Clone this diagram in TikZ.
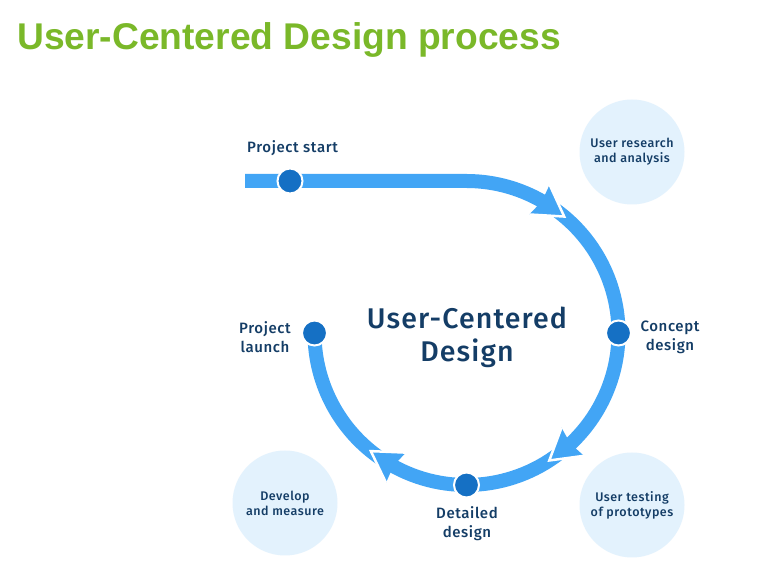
\documentclass[tikz,border=0pt]{standalone}
\usepackage{fontspec}
\setmainfont{Liberation Sans}
\newfontfamily\titlefont{Liberation Sans}
\newfontfamily\lab{Fira Sans Medium}[LetterSpace=4]
\usetikzlibrary{calc}
\definecolor{linec}{HTML}{42A5F5}
\definecolor{dotc}{HTML}{1570C4}
\definecolor{bgc}{HTML}{E3F2FD}
\definecolor{txtc}{HTML}{143D66}
\definecolor{titlec}{HTML}{7AB829}
\tikzset{
  flow/.style={draw=linec, line width=14pt, line cap=butt},
  dotnode/.style={circle, fill=dotc, draw=white, line width=2pt, minimum size=25pt, inner sep=0pt},
  bubble/.style={circle, fill=bgc, minimum size=105pt, inner sep=0pt},
  steplabel/.style={text=txtc, font=\lab\fontsize{15}{19}\selectfont, align=center},
  bubblelabel/.style={text=txtc, font=\lab\fontsize{12.5}{15}\selectfont, align=center},
}
\newcommand{\arrowheadat}[2]{% #1 = name of tip coordinate, #2 = rotation
  \begin{scope}[shift={(#1)}, rotate=#2]
    \fill[linec] (0,0) -- (-30,18) -- (-27,0) -- (-30,-18) -- cycle;
    \draw[white, line width=2.5pt, line join=miter] (-30,18) -- (0,0) -- (-30,-18);
  \end{scope}}
\begin{document}
\begin{tikzpicture}[x=1pt,y=1pt]
\useasboundingbox (0,0) rectangle (783,577);
\fill[white] (0,0) rectangle (783,577);
% title
\node[anchor=base west, inner sep=0pt, text=titlec, font=\titlefont\bfseries\fontsize{37.2}{40}\selectfont] (title) at (17,527) {User-Centered Design process};
% bubbles
\node[bubble] (b1) at (632,425) {};
\node[bubble] (b2) at (632,72) {};
\node[bubble] (b3) at (285,74) {};
\node[bubblelabel] (b1t) at (b1) {User research\\and analysis};
\node[bubblelabel] (b2t) at (b2) {User testing\\of prototypes};
\node[bubblelabel] (b3t) at (b3) {Develop\\and measure};
% geometry
\coordinate (C) at (466.5,244);
\coordinate (s0) at (245,396);
\coordinate (top) at ($(C)+(90:152)$);
\coordinate (t1) at ($(C)+(50:152)$);
\coordinate (t2) at ($(C)+(-57:152)$);
\coordinate (t3) at ($(C)+(-129:152)$);
\coordinate (a2) at ($(C)+(57:152)$);
\coordinate (a3) at ($(C)+(-50:152)$);
\coordinate (a4) at ($(C)+(-122:152)$);
% flow segments
\draw[flow] (s0) -- (top) arc[start angle=90, end angle=58, radius=152pt];
\draw[flow] (a2) arc[start angle=57, end angle=-48, radius=152pt];
\draw[flow] (a3) arc[start angle=-50, end angle=-120, radius=152pt];
\draw[flow] (a4) arc[start angle=-122, end angle=-180, radius=152pt];
% arrowheads
\arrowheadat{t1}{-34.4}
\arrowheadat{t2}{-141.4}
\arrowheadat{t3}{-213.4}
% dots
\node[dotnode] (d0) at (290,396) {};
\node[dotnode] (d1) at ($(C)+(0:152)$) {};
\node[dotnode] (d2) at ($(C)+(-90:152)$) {};
\node[dotnode] (d3) at ($(C)+(180:152)$) {};
% labels
\node[steplabel, anchor=base west, inner sep=0pt] (l0) at (247,424) {Project start};
\node[steplabel] (l1) at (670,239.5) {Concept\\design};
\node[steplabel] (l2) at (467,53) {Detailed\\design};
\node[steplabel] (l3) at (265,239.5) {Project\\launch};
% centre text
\node[text=txtc, font=\lab\fontsize{28.5}{32.5}\selectfont, align=center] (ctr) at (467,239.5) {User-Centered\\Design};
\end{tikzpicture}
\end{document}
